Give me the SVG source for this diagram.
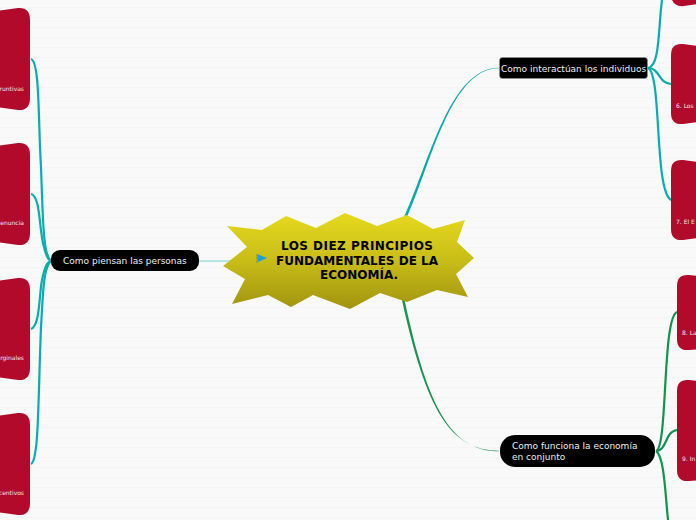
<svg xmlns="http://www.w3.org/2000/svg" width="696" height="520" viewBox="0 0 696 520">
<defs>
<linearGradient id="star" x1="0" y1="0" x2="0" y2="1"><stop offset="0" stop-color="#e6da1e"/><stop offset="0.5" stop-color="#c8bc18"/><stop offset="1" stop-color="#a29410"/></linearGradient>
<pattern id="bg" width="10" height="10" patternUnits="userSpaceOnUse"><rect width="10" height="10" fill="#f9f9f9"/><rect y="7" width="10" height="1" fill="#f5f5f5"/></pattern>
</defs>
<style>
.sub{fill:#b10a2a}
.t2{fill:none;stroke:#0aadad;stroke-width:2.2}
.g2{fill:none;stroke:#12934f;stroke-width:2.2}
.lab{font-family:"DejaVu Sans",sans-serif;font-size:9px;fill:#eeeeee}
.small{font-family:"DejaVu Sans",sans-serif;font-size:6px;fill:#f8e4e8}
.title{font-family:"DejaVu Sans",sans-serif;font-size:12px;font-weight:bold;fill:#000;text-anchor:middle}
</style>
<rect width="696" height="520" fill="url(#bg)"/>
<g id="connectors">
<path fill="#74d2d2" d="M198 260.400H236V261.600H198Z"/>
<path fill="#0aa8a8" d="M499 67.700C450 67.700 430 160 404.500 216L407 217.300C432 161 451 68.300 499 68.300Z"/>
<path fill="#1b9354" d="M499 450.700C450 450.700 426 410 401.500 298L404 297.500C427.500 408 451 451.300 499 451.300Z"/>
<path class="t2" d="M31 59C40 62 38 120 41 167C43 220 43 255 51 261"/>
<path class="t2" d="M31 194C40 196 39 225 43 243C46 256 48 260 51 261"/>
<path class="t2" d="M31 329C40 326 39 295 42 280C45 266 47 262 51 261"/>
<path class="t2" d="M31 464C39 460 38 400 41 327C43 295 43 268 51 261"/>
<path class="t2" d="M648 68C660 66 658 30 662 0"/>
<path class="t2" d="M648 68C660 68 658 83 671 84"/>
<path class="t2" d="M648 68C662 74 654 190 671 200"/>
<path class="g2" d="M656 451C668 448 662 318 677 312"/>
<path class="g2" d="M656 451C668 450 664 432 677 430"/>
<path class="g2" d="M656 451C664 456 665 490 668 520"/>
</g>
<g id="n1"><path class="sub" d="M-10 12L18 8Q30 7 30 20V98Q30 111 18 110L-10 106Z"/><text class="small" x="24" y="91" text-anchor="end">runtivas</text></g>
<g id="n2"><path class="sub" d="M-10 147L18 143Q30 142 30 155V233Q30 246 18 245L-10 241Z"/><text class="small" x="24" y="225" text-anchor="end">enuncia</text></g>
<g id="n3"><path class="sub" d="M-10 282L18 278Q30 277 30 290V368Q30 381 18 380L-10 376Z"/><text class="small" x="24" y="360" text-anchor="end">rginales</text></g>
<g id="n4"><path class="sub" d="M-10 417L18 413Q30 412 30 425V503Q30 516 18 515L-10 511Z"/><text class="small" x="24" y="495" text-anchor="end">centivos</text></g>
<g id="n5"><path class="sub" d="M672 -5V0Q675 7 684 6L706 3V-5Z"/></g>
<g id="n6"><path class="sub" d="M671 55Q671 43 683 44L706 47V121L683 124Q671 125 671 113Z"/><text class="small" x="676" y="108">6. Los</text></g>
<g id="n7"><path class="sub" d="M671 171Q671 159 683 160L706 163V237L683 240Q671 241 671 229Z"/><text class="small" x="676" y="224">7. El E</text></g>
<g id="n8"><path class="sub" d="M677 286Q677 274 689 275L706 277V349L689 350Q677 351 677 339Z"/><text class="small" x="682" y="335">8. La</text></g>
<g id="n9"><path class="sub" d="M677 391Q677 379 689 380L706 382V480L689 481Q677 482 677 470Z"/><text class="small" x="682" y="461">9. In</text></g>
<g id="center"><path fill="url(#star)" d="M223 266L247 247L227 226L262 230L286 216L316 228L345 213L377 226L407 215L433 229L465 220L457 242L474 258L456 274L468 297L437 290L407 302L380 293L350 309L313 295L291 307L268 295L232 304L245 279Z"/>
<path d="M257 254L267 258L258 262Z" fill="#1f9ed8"/><path d="M257 254V263" stroke="#998f30" stroke-width="1"/>
<text class="title" x="357" y="250" textLength="152">LOS DIEZ PRINCIPIOS</text><text class="title" x="357" y="265">FUNDAMENTALES DE LA</text><text class="title" x="359" y="279">ECONOMÍA.</text></g>
<g id="thinking"><rect x="51" y="250" width="148" height="21" rx="9" fill="#000"/><text class="lab" x="63" y="264">Como piensan las personas</text></g>
<g id="interact"><rect x="499.500" y="57.500" width="148" height="21" rx="3" fill="#000" stroke="#999" stroke-width="0.500"/><text class="lab" x="501" y="72">Como interactúan los individuos</text></g>
<g id="economy"><rect x="500" y="435" width="155" height="32" rx="15" fill="#000"/><text class="lab" x="512" y="449">Como funciona la economía</text><text class="lab" x="512" y="460">en conjunto</text></g>
</svg>
